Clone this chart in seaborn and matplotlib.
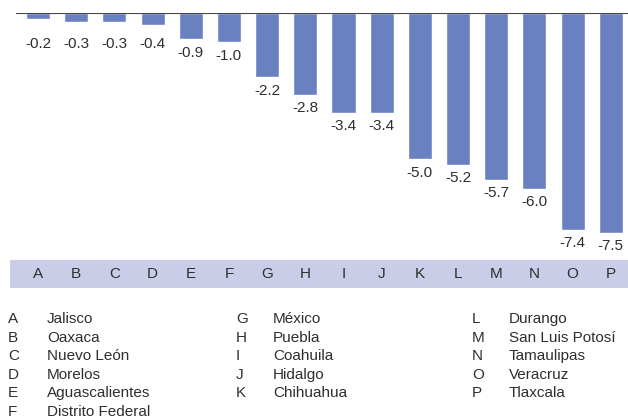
import matplotlib
matplotlib.use("Agg")
import matplotlib.pyplot as plt
import seaborn as sns
import pandas as pd

letters = list("ABCDEFGHIJKLMNOP")
states = ["Jalisco", "Oaxaca", "Nuevo León", "Morelos", "Aguascalientes",
          "Distrito Federal", "México", "Puebla", "Coahuila", "Hidalgo",
          "Chihuahua", "Durango", "San Luis Potosí", "Tamaulipas",
          "Veracruz", "Tlaxcala"]
values = [-0.2, -0.3, -0.3, -0.4, -0.9, -1.0, -2.2, -2.8, -3.4, -3.4,
          -5.0, -5.2, -5.7, -6.0, -7.4, -7.5]

sns.set_theme(style="white")
plt.rcParams['font.family'] = ['Liberation Sans', 'DejaVu Sans']
TXT = "#2e2e2e"
BAR = "#6a81c1"
FS = 11

W, H = 628, 419
fig = plt.figure(figsize=(W / 100, H / 100), dpi=100)

def rect(x0, y0, x1, y1):
    return [x0 / W, 1 - y1 / H, (x1 - x0) / W, (y1 - y0) / H]

df = pd.DataFrame({"letter": letters, "value": values})

ax = fig.add_axes(rect(16, 13, 628, 253))
sns.barplot(data=df, x="letter", y="value", color=BAR, width=0.63,
            saturation=1, ax=ax)
ax.set_xlim(-0.576, 15.45)
ax.set_ylim(-8.2, 0)
for s in ax.spines.values():
    s.set_visible(False)
ax.axhline(0, color="#444444", lw=1.5, zorder=5)
ax.set_xticks([]); ax.set_yticks([])
ax.set_xlabel(""); ax.set_ylabel("")
for i, v in enumerate(values):
    ly = min(v, -0.62)
    off = -4.5 if v < -0.62 else -4.5 + (v - ly) * 0
    ax.annotate(f"{v:.1f}", (i, ly), xytext=(0, off), textcoords="offset points",
                ha="center", va="top", fontsize=FS, color=TXT)

sx = fig.add_axes(rect(10, 260, 628, 288))
sx.set_facecolor("#c9cde8")
sx.set_xlim(-0.733, 15.45)
sx.set_ylim(0, 1)
for s in sx.spines.values():
    s.set_visible(False)
sx.set_xticks([]); sx.set_yticks([])
for i, l in enumerate(letters):
    sx.text(i, 0.5, l, ha="center", va="center", fontsize=FS, color=TXT)

cols = [(8, 47, 0, 6), (236, 273, 6, 11), (472, 509, 11, 16)]
for lx, nx, a, b in cols:
    for r, k in enumerate(range(a, b)):
        y = 1 - (319 + r * 18.5) / H
        fig.text(lx / W, y, letters[k], ha="left", va="center", fontsize=FS, color=TXT)
        fig.text(nx / W, y, states[k], ha="left", va="center", fontsize=FS, color=TXT)

fig.savefig("out.png", dpi=100)
